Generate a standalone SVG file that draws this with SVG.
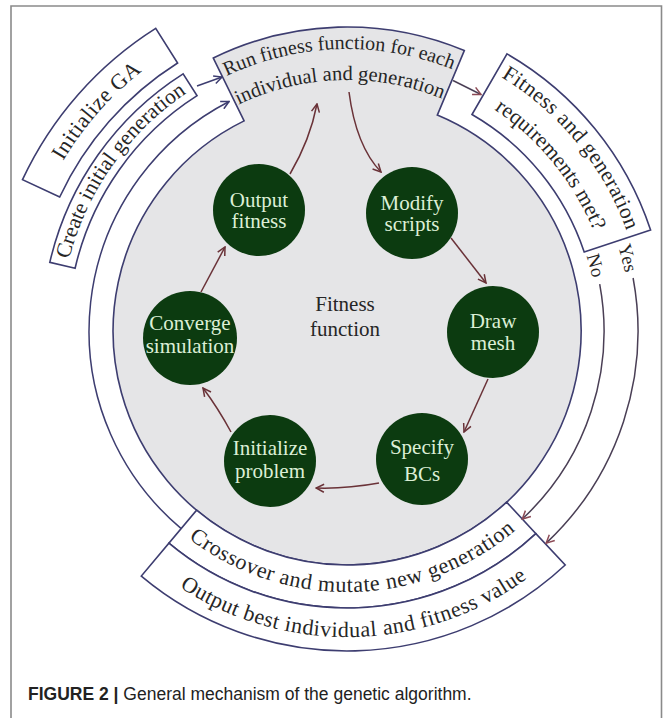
<svg xmlns="http://www.w3.org/2000/svg" width="663" height="718" viewBox="0 0 663 718">
<defs>
<style>
.box{fill:#ffffff;stroke:#3d3d70;stroke-width:1.6;stroke-linejoin:miter}
.gray{fill:#e5e5e7;stroke:#3d3d70;stroke-width:1.6}
.arc{font-family:"Liberation Serif","Times New Roman",serif;fill:#262626;text-anchor:middle}
.node circle{fill:#0c3b10}
.node text{font-family:"Liberation Serif","Times New Roman",serif;font-size:21px;fill:#dcefd6;text-anchor:middle}
.inner{fill:none;stroke:#6a3238;stroke-width:1.5;marker-end:url(#mMaroon)}
.navy{fill:none;stroke:#3d3d70;stroke-width:1.5;marker-end:url(#mNavy)}
.yn{fill:none;stroke:#4a3f55;stroke-width:1.5;marker-end:url(#mRed)}
</style>
<marker id="mMaroon" viewBox="0 0 10 10" refX="9" refY="5" markerWidth="10" markerHeight="10" markerUnits="userSpaceOnUse" orient="auto"><path d="M1,1 L9,5 L1,9" fill="none" stroke="#6a3238" stroke-width="1.5"/></marker>
<marker id="mNavy" viewBox="0 0 10 10" refX="9" refY="5" markerWidth="10" markerHeight="10" markerUnits="userSpaceOnUse" orient="auto"><path d="M1,1 L9,5 L1,9" fill="none" stroke="#3d3d70" stroke-width="1.5"/></marker>
<marker id="mRed" viewBox="0 0 10 10" refX="9" refY="5" markerWidth="10" markerHeight="10" markerUnits="userSpaceOnUse" orient="auto"><path d="M1,1 L9,5 L1,9" fill="none" stroke="#8c4a55" stroke-width="1.5"/></marker>
<path id="tRun1" d="M178.5,104.9 A282,282 0 0 1 501.8,95.3"/>
<path id="tRun2" d="M197.0,129.8 A251,251 0 0 1 484.8,121.2"/>
<path id="tFit1" d="M427.9,45.2 A297,297 0 0 1 643.2,309.3"/>
<path id="tFit2" d="M419.4,75.1 A266,266 0 0 1 612.3,311.5"/>
<path id="tInit" d="M18.0,294.4 A331,331 0 0 1 268.9,9.3"/>
<path id="tCreate" d="M60.0,329.7 A287,287 0 0 1 250.0,60.9"/>
<path id="tCross" d="M167.3,520.3 A261,261 0 0 0 536.3,510.7"/>
<path id="tOut" d="M136.3,553.0 A306,306 0 0 0 569.0,541.7"/>
<path id="tNo" d="M574.9,225.7 A251,251 0 0 1 597.1,310.0"/>
<path id="tYes" d="M605.2,212.8 A284,284 0 0 1 630.1,308.2"/>
</defs>
<rect width="663" height="718" fill="#ffffff"/>
<path d="M11,718 V6 H661.5 V718" fill="none" stroke="#8a8a8a" stroke-width="1.6"/>

<g id="fitness-region">
<path class="gray" d="M244.1,120.9 L213.3,58.0 A304,304 0 0 1 464.3,50.6 L437.3,115.1 A234,234 0 1 1 244.1,120.9 Z"/>
<text class="arc" font-size="20"><textPath href="#tRun1" startOffset="50%">Run fitness function for each</textPath></text>
<text class="arc" font-size="20.5"><textPath href="#tRun2" startOffset="50%">individual and generation</textPath></text>
<text class="arc" font-size="21" x="345" y="311">Fitness</text>
<text class="arc" font-size="21" x="345" y="336">function</text>
</g>

<g id="box-initialize-ga">
<path class="box" d="M59.7,197.0 L22.5,179.7 A358,358 0 0 1 155.7,28.4 L177.6,63.0 A317,317 0 0 0 59.7,197.0 Z"/>
<text class="arc" font-size="22" letter-spacing="0.4"><textPath href="#tInit" startOffset="50%">Initialize GA</textPath></text>
</g>

<g id="box-create">
<path class="box" d="M75.1,268.2 L49.8,262.4 A305,305 0 0 1 183.1,73.8 L197.1,95.7 A279,279 0 0 0 75.1,268.2 Z"/>
<text class="arc" font-size="21.5"><textPath href="#tCreate" startOffset="50%">Create initial generation</textPath></text>
</g>

<g id="box-fitness-check">
<path class="box" d="M472,114.5 L507,53.9 A320,320 0 0 1 650.6,230.0 L584.2,252.1 A250,250 0 0 0 472,114.5 Z"/>
<text class="arc" font-size="21.5" letter-spacing="0.4"><textPath href="#tFit1" startOffset="50%">Fitness and generation</textPath></text>
<text class="arc" font-size="21.5"><textPath href="#tFit2" startOffset="50%">requirements met?</textPath></text>
</g>

<g id="box-crossover">
<path class="box" d="M506.6,502.1 A234,234 0 0 1 196.6,510.2 L168.9,543.2 A277,277 0 0 0 535.9,533.6 Z"/>
<text class="arc" font-size="22" letter-spacing="0.6"><textPath href="#tCross" startOffset="50%">Crossover and mutate new generation</textPath></text>
</g>

<g id="box-output">
<path class="box" d="M535.9,533.6 A277,277 0 0 1 168.9,543.2 L141.3,576.1 A320,320 0 0 0 565.2,565.0 Z"/>
<text class="arc" font-size="22" letter-spacing="0.5"><textPath href="#tOut" startOffset="50%">Output best individual and fitness value</textPath></text>
</g>

<g id="n-output" class="node"><circle cx="259" cy="210" r="46"/><text x="259" y="207">Output</text><text x="259" y="228">fitness</text></g>
<g id="n-modify" class="node"><circle cx="412" cy="213" r="46"/><text x="412" y="210">Modify</text><text x="412" y="231">scripts</text></g>
<g id="n-draw" class="node"><circle cx="493" cy="332" r="46"/><text x="493" y="328">Draw</text><text x="493" y="350">mesh</text></g>
<g id="n-specify" class="node"><circle cx="422" cy="459" r="46"/><text x="422" y="454">Specify</text><text x="422" y="481">BCs</text></g>
<g id="n-init" class="node"><circle cx="270" cy="461" r="46"/><text x="270" y="455">Initialize</text><text x="270" y="478">problem</text></g>
<g id="n-converge" class="node"><circle cx="190" cy="338" r="47"/><text x="190" y="330">Converge</text><text x="190" y="353">simulation</text></g>

<g id="connectors">
<path class="inner" d="M349,92 Q356,146 381,172"/>
<path class="inner" d="M451,238 L486,283"/>
<path class="inner" d="M488,379 L464,432"/>
<path class="inner" d="M379,483 Q346,489 316,488"/>
<path class="inner" d="M231,432 Q218,408 203,388"/>
<path class="inner" d="M201,292 L225,247"/>
<path class="inner" d="M290,174 Q310,140 317,104"/>
<path class="navy" d="M197,86 L222,77"/>
<path class="navy" d="M181.2,528.6 A258,258 0 0 1 229.1,101.5"/>
<path class="yn" d="M453,80.5 L481,94.5"/>
<path class="yn" d="M599.7,284.2 A257,257 0 0 1 522.3,519.0"/>
<path class="yn" d="M633.1,278.0 A291,291 0 0 1 546.2,543.1"/>
<text class="arc" font-size="19"><textPath href="#tNo" startOffset="50%">No</textPath></text>
<text class="arc" font-size="19"><textPath href="#tYes" startOffset="50%">Yes</textPath></text>
</g>

<text x="28" y="700" font-family="Liberation Sans, Arial, sans-serif" font-size="17.5" fill="#222"><tspan font-weight="bold">FIGURE 2 |</tspan> General mechanism of the genetic algorithm.</text>
</svg>
